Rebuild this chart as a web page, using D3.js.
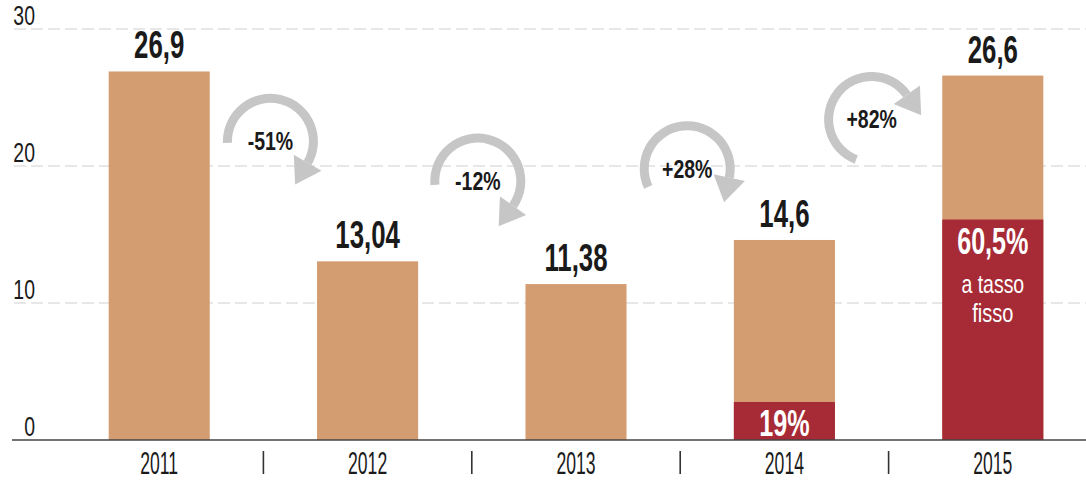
<!DOCTYPE html>
<html>
<head>
<meta charset="utf-8">
<script src="https://cdn.jsdelivr.net/npm/d3@7"></script>
<style>
  html, body { margin: 0; padding: 0; background: #fff; }
  svg { display: block; }
  text { font-family: "Liberation Sans", Arial, sans-serif; }
</style>
</head>
<body>
<svg id="chart"></svg>
<script>
// data
const years = ['2011', '2012', '2013', '2014', '2015'];
const totals = [26.9, 13.04, 11.38, 14.6, 26.6];
const totalLabels = ['26,9', '13,04', '11,38', '14,6', '26,6'];
const fixedShare = [0, 0, 0, 0.19, 0.605];   // share at fixed rate
const shareLabels = ['', '', '', '19%', '60,5%'];
const changeLabels = ['-51%', '-12%', '+28%', '+82%'];
const yTicks = [0, 10, 20, 30];

const width = 1086, height = 483;
const colors = { total: '#D49C71', fixed: '#A62B36', arrow: '#C6C6C6', text: '#1a1a1a' };

// circular arrows: shift from midpoint, centre height (data units), start/end angle in degrees
const arrowLayout = [
  { dx: 7, cy: 21.8, a0: -92, a1: 120 },
  { dx: 6, cy: 18.9, a0: -95, a1: 125 },
  { dx: 7, cy: 19.8, a0: -115, a1: 102 },
  { dx: -17, cy: 23.4, a0: -159, a1: 55 }
];

const svg = d3.select('#chart')
  .attr('width', width)
  .attr('height', height);

const x = d3.scaleBand()
  .domain(years)
  .range([55, 1097])
  .paddingInner(0.515)
  .paddingOuter(0.2575);

const y = d3.scaleLinear()
  .domain([0, 30])
  .range([440, 29]);

// text squeezed horizontally to mimic the condensed face
function label(parent, tx, ty, str, o) {
  return parent.append('text')
    .attr('transform', `translate(${tx},${ty}) scale(${o.sx || 1},1)`)
    .attr('text-anchor', o.anchor || 'middle')
    .style('font-size', o.size + 'px')
    .style('font-weight', o.weight || 'normal')
    .style('fill', o.fill || colors.text)
    .text(str);
}

// gridlines
svg.append('g')
  .selectAll('line')
  .data(yTicks.filter(d => d > 0))
  .enter().append('line')
  .attr('x1', 14)
  .attr('x2', width)
  .attr('y1', d => y(d))
  .attr('y2', d => y(d))
  .attr('stroke', '#e0e0e0')
  .attr('stroke-width', 1.5)
  .attr('stroke-dasharray', '12,5');

// y tick labels
const yAxis = svg.append('g');
yTicks.forEach(t => {
  label(yAxis, 35, y(t) - 4, String(t), { size: 27, sx: 0.72, anchor: 'end' });
});

// total bars
svg.append('g')
  .selectAll('rect')
  .data(years)
  .enter().append('rect')
  .attr('x', d => x(d))
  .attr('y', (d, i) => y(totals[i]))
  .attr('width', x.bandwidth())
  .attr('height', (d, i) => y(0) - y(totals[i]))
  .attr('fill', colors.total);

// fixed-rate part
svg.append('g')
  .selectAll('rect')
  .data(years.filter((d, i) => fixedShare[i] > 0))
  .enter().append('rect')
  .attr('x', d => x(d))
  .attr('y', d => { const i = years.indexOf(d); return y(totals[i] * fixedShare[i]); })
  .attr('width', x.bandwidth())
  .attr('height', d => { const i = years.indexOf(d); return y(0) - y(totals[i] * fixedShare[i]); })
  .attr('fill', colors.fixed);

// baseline
svg.append('line')
  .attr('x1', 12)
  .attr('x2', width)
  .attr('y1', y(0))
  .attr('y2', y(0))
  .attr('stroke', '#444')
  .attr('stroke-width', 1.5);

// value labels on top
const labels = svg.append('g');
years.forEach((yr, i) => {
  const cx = x(yr) + x.bandwidth() / 2;
  label(labels, cx, y(totals[i]) - 13, totalLabels[i], { size: 38, weight: 'bold', sx: 0.68 });
  if (fixedShare[i] > 0) {
    const top = y(totals[i] * fixedShare[i]);
    label(labels, cx, top + 34, shareLabels[i], { size: 37, weight: 'bold', sx: 0.68, fill: '#fff' });
    if (i === years.length - 1) {
      label(labels, cx, top + 73, 'a tasso', { size: 25, sx: 0.78, fill: '#fff' });
      label(labels, cx, top + 102, 'fisso', { size: 25, sx: 0.8, fill: '#fff' });
    }
  }
});

// year labels and separators
const xAxis = svg.append('g');
years.forEach((yr, i) => {
  label(xAxis, x(yr) + x.bandwidth() / 2, 474, yr, { size: 32, sx: 0.55 });
  if (i < years.length - 1) {
    const mx = (x(yr) + x.bandwidth() + x(years[i + 1])) / 2;
    xAxis.append('line')
      .attr('x1', mx).attr('x2', mx)
      .attr('y1', 451).attr('y2', 474)
      .attr('stroke', '#333')
      .attr('stroke-width', 1.6);
  }
});

// circular change arrows
const rad = Math.PI / 180;
const r = 43;
const arc = d3.arc().innerRadius(r - 4.5).outerRadius(r + 4.5);
const arrows = svg.append('g');
changeLabels.forEach((txt, i) => {
  const lay = arrowLayout[i];
  const mid = (x(years[i]) + x(years[i + 1]) + x.bandwidth()) / 2;
  const cx = mid + lay.dx;
  const cy = y(lay.cy);
  const g = arrows.append('g').attr('transform', `translate(${cx},${cy})`);
  g.append('path')
    .attr('d', arc({ startAngle: lay.a0 * rad, endAngle: lay.a1 * rad }))
    .attr('fill', colors.arrow);
  // arrowhead at the end of the arc, pointing clockwise
  const th = lay.a1 * rad;
  const bx = r * Math.sin(th), by = -r * Math.cos(th);
  const tx = Math.cos(th), ty = Math.sin(th);
  const nx = Math.sin(th), ny = -Math.cos(th);
  const pts = [
    [bx + nx * 16, by + ny * 16],
    [bx + tx * 25, by + ty * 25],
    [bx - nx * 16, by - ny * 16]
  ];
  g.append('path')
    .attr('d', d3.line()(pts) + 'Z')
    .attr('fill', colors.arrow);
  label(g, 0, 9, txt, { size: 26, weight: 'bold', sx: 0.75 });
});
</script>
</body>
</html>
